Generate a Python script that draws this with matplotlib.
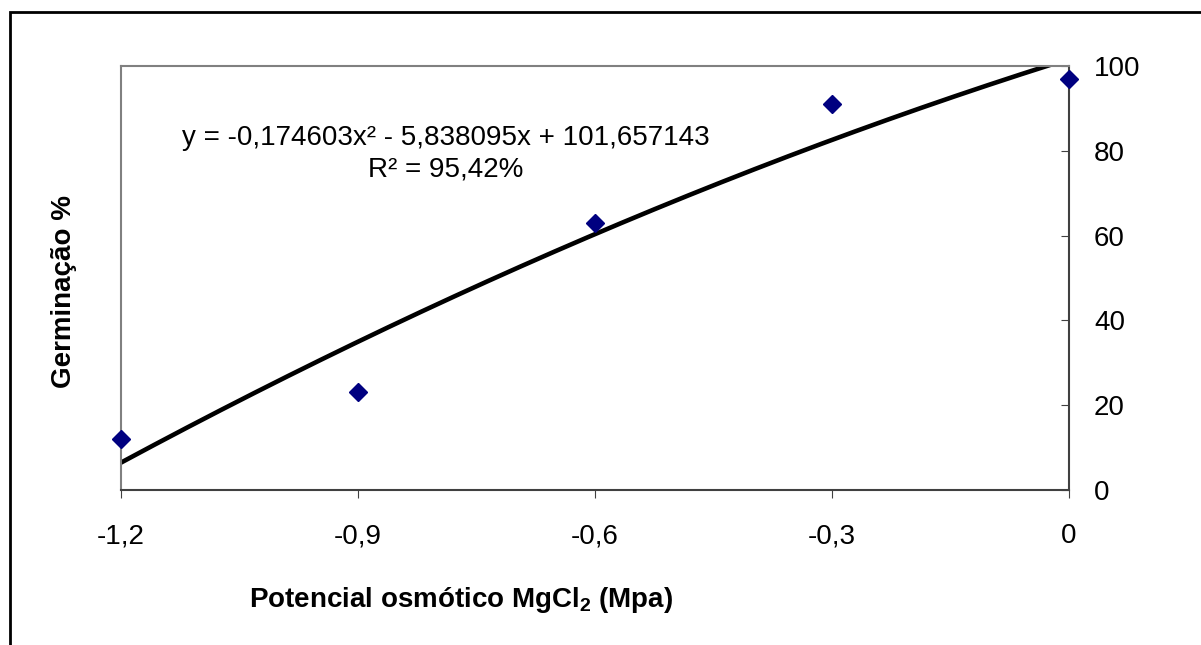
import numpy as np
import matplotlib.pyplot as plt
from matplotlib.patches import Rectangle

plt.rcParams["font.family"] = ["Liberation Sans", "DejaVu Sans"]
plt.rcParams["mathtext.fontset"] = "custom"
plt.rcParams["mathtext.rm"] = "Liberation Sans"
plt.rcParams["mathtext.bf"] = "Liberation Sans:bold"

# data
potencial = [-1.2, -0.9, -0.6, -0.3, 0.0]
germinacao = [12, 23, 63, 91, 97]
# trendline coefficients as printed (x in tenths of MPa, magnitude)
a, b, c = -0.174603, -5.838095, 101.657143
xticks = [-1.2, -0.9, -0.6, -0.3, 0.0]
yticks = [0, 20, 40, 60, 80, 100]

W, H = 1201, 645
fig = plt.figure(figsize=(W / 100, H / 100), dpi=100)

# outer chart border (right and bottom fall outside the image)
fig.patches.append(Rectangle((10 / W, -0.5), 1.5, 1.5 - 12 / H, transform=fig.transFigure,
                             fill=False, edgecolor="black", linewidth=2))

ax = fig.add_axes([121 / W, 1 - 490 / H, (1069 - 121) / W, (490 - 66) / H])

xs = np.linspace(-1.2, 0, 200)
t = -10 * xs
ax.plot(xs, a * t ** 2 + b * t + c, color="black", linewidth=3.3, solid_capstyle="butt", zorder=2)
ax.plot(potencial, germinacao, linestyle="none", marker="D", markersize=9.5,
        color="#000080", clip_on=False, zorder=3)

ax.set_xlim(-1.2, 0)
ax.set_ylim(0, 100)
ax.set_xticks(xticks)
ax.set_xticklabels([("%g" % v).replace(".", ",") for v in xticks])
ax.set_yticks(yticks)
ax.yaxis.tick_right()
ax.tick_params(axis="y", direction="in", length=6, pad=18, labelsize=20, color="#404040")
ax.tick_params(axis="x", direction="out", length=6, pad=18, labelsize=20, color="#404040")

for s in ["left", "top"]:
    ax.spines[s].set_color("#808080")
for s in ["right", "bottom"]:
    ax.spines[s].set_color("#404040")
for s in ax.spines.values():
    s.set_linewidth(1.5)

fig.text(446 / W, 1 - 138 / H, "y = -0,174603x² - 5,838095x + 101,657143",
         ha="center", va="center", fontsize=20)
fig.text(446 / W, 1 - 170 / H, "R² = 95,42%", ha="center", va="center", fontsize=20)

fig.text(461 / W, 1 - 600 / H, r"Potencial osmótico MgCl$_\mathbf{2}$ (Mpa)",
         ha="center", va="center", fontsize=20, fontweight="bold")
fig.text(64 / W, 1 - 291 / H, "Germinação %", ha="center", va="center",
         rotation=90, fontsize=20, fontweight="bold")

fig.savefig("out.png", dpi=100)
